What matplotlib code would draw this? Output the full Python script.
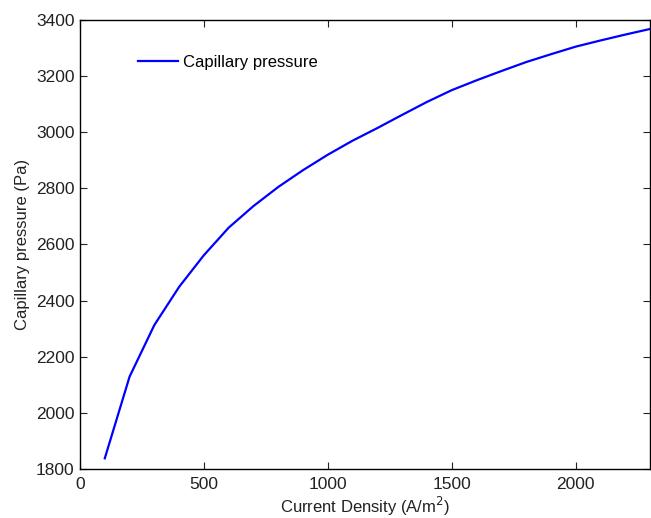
import matplotlib
matplotlib.use("Agg")
import matplotlib.pyplot as plt

current_density = [100, 200, 300, 400, 500, 600, 700, 800, 900, 1000, 1100, 1200,
                   1300, 1400, 1500, 1600, 1700, 1800, 1900, 2000, 2100, 2200, 2300]
capillary_pressure = [1838, 2129, 2313, 2449, 2562, 2660, 2737, 2805, 2865, 2920,
                      2970, 3015, 3062, 3108, 3150, 3185, 3218, 3250, 3278, 3305,
                      3327, 3348, 3368]

plt.rcParams['font.family'] = ['Liberation Sans', 'DejaVu Sans']
plt.rcParams['font.size'] = 12

fig = plt.figure(figsize=(6.51, 5.18), dpi=100)
ax = fig.add_axes([80/651, 1 - 469/518, 570/651, 449/518])

ax.plot(current_density, capillary_pressure, color='#0000ff', linewidth=1.6,
        label='Capillary pressure')

ax.set_xlim(0, 2300)
ax.set_ylim(1800, 3400)
ax.set_xticks([0, 500, 1000, 1500, 2000])
ax.set_yticks(range(1800, 3401, 200))
ax.tick_params(direction='in', top=True, right=True, length=5, width=0.8,
               colors='#222222', labelcolor='#222222', labelsize=12.5)
ax.tick_params(axis='x', pad=6)
ax.tick_params(axis='y', pad=4)
for s in ax.spines.values():
    s.set_linewidth(1.0)

ax.set_xlabel('Current Density (A/m$^2$)', labelpad=1.5, color='#222222')
ax.set_ylabel('Capillary pressure (Pa)', labelpad=4, color='#222222')

ax.legend(loc='upper left', bbox_to_anchor=(0.075, 0.956), frameon=False,
          handlelength=2.4, handletextpad=0.3, fontsize=12)

fig.savefig('out.png', dpi=100)
